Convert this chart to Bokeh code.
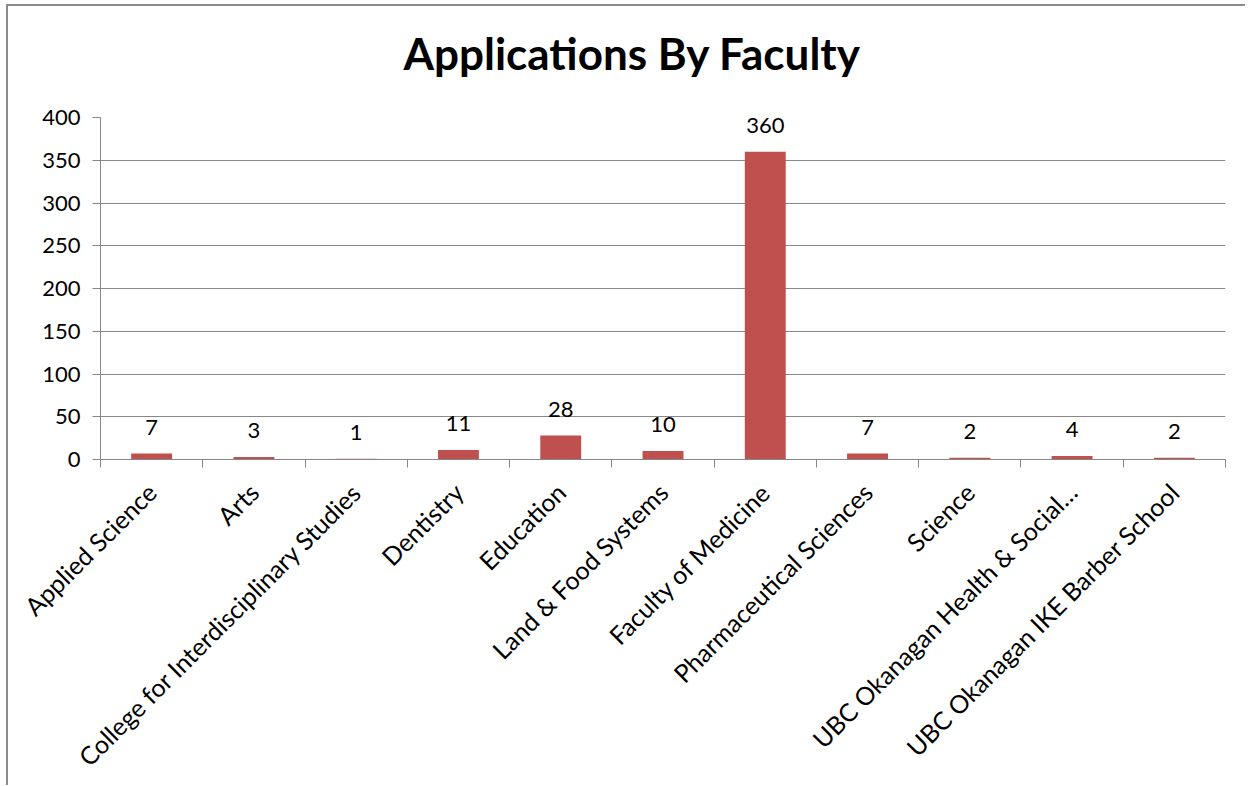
from bokeh.plotting import figure
from bokeh.models import ColumnDataSource, FixedTicker, Range1d, LabelSet, Title
from bokeh.core.properties import value
from bokeh.embed import file_html
from bokeh.resources import INLINE
import math

title_text = "Applications By Faculty"
faculties = ["Applied Science", "Arts", "College for Interdisciplinary Studies", "Dentistry",
             "Education", "Land & Food Systems", "Faculty of Medicine", "Pharmaceutical Sciences",
             "Science", "UBC Okanagan Health & Social…", "UBC Okanagan IKE Barber School"]
applications = [7, 3, 1, 11, 28, 10, 360, 7, 2, 4, 2]
y_ticks = [0, 50, 100, 150, 200, 250, 300, 350, 400]

FONT = "Lato"
GRAY = "#878787"

xs = [i + 0.5 for i in range(len(faculties))]
src = ColumnDataSource(dict(x=xs, y=applications, lab=[str(v) for v in applications]))

p = figure(frame_width=1125, frame_height=342, output_backend="svg", toolbar_location=None,
           x_range=Range1d(0, len(faculties)), y_range=Range1d(0, 400),
           min_border_left=92, min_border_right=20, min_border_top=111, min_border_bottom=10)
p.styles = {"border-top": "2px solid #8c8c8c", "border-left": "2px solid #8c8c8c",
            "margin-top": "4px", "margin-left": "6px"}
p.outline_line_color = None

spacer = Title(text=" ", text_font_size="10px", standoff=8)
main_title = Title(text=title_text, text_font=FONT, text_font_size="44px",
                   text_font_style="bold", text_color="black", align="left",
                   offset=303, standoff=36)
p.add_layout(spacer, "above")
p.add_layout(main_title, "above")

p.vbar(x="x", top="y", width=0.4, source=src, fill_color="#C0504D", line_color=None)
p.add_layout(LabelSet(x="x", y="y", text="lab", source=src, text_align="center",
                      text_baseline="alphabetic", y_offset=19, text_font=value(FONT),
                      text_font_size=value("22px"), text_color="black"))

p.xgrid.visible = False
p.ygrid.grid_line_color = GRAY
p.ygrid.ticker = FixedTicker(ticks=y_ticks)

p.yaxis.ticker = FixedTicker(ticks=y_ticks)
p.yaxis.axis_line_color = GRAY
p.yaxis.major_tick_line_color = GRAY
p.yaxis.major_tick_out = 8
p.yaxis.major_tick_in = 0
p.yaxis.minor_tick_line_color = None
p.yaxis.major_label_text_font = FONT
p.yaxis.major_label_text_font_size = "22px"
p.yaxis.major_label_text_color = "black"
p.yaxis.major_label_standoff = 12

p.xaxis.ticker = FixedTicker(ticks=xs, minor_ticks=list(range(len(faculties) + 1)))
p.xaxis.major_label_overrides = {x: f for x, f in zip(xs, faculties)}
p.xaxis.major_label_orientation = math.pi / 4
p.xaxis.major_label_text_font = FONT
p.xaxis.major_label_text_font_size = "25px"
p.xaxis.major_label_text_color = "black"
p.xaxis.major_label_standoff = 20
p.xaxis.axis_line_color = GRAY
p.xaxis.major_tick_line_color = None
p.xaxis.minor_tick_line_color = GRAY
p.xaxis.minor_tick_out = 8
p.xaxis.minor_tick_in = 0

open("out.html", "w").write(file_html(p, INLINE))
